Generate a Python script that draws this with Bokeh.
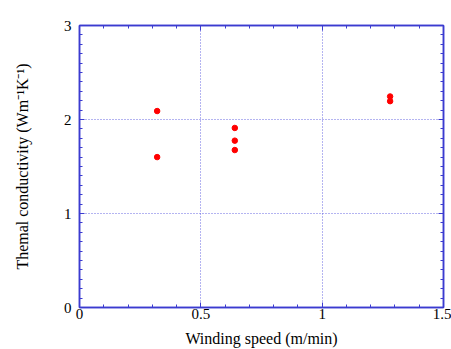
from bokeh.plotting import figure
from bokeh.models import LinearAxis, Range1d, FixedTicker
from bokeh.embed import file_html
from bokeh.resources import INLINE

speed = [0.32, 0.32, 0.64, 0.64, 0.64, 1.28, 1.28]
conductivity = [2.09, 1.60, 1.91, 1.775, 1.675, 2.245, 2.195]
x_ticks = [0, 0.5, 1, 1.5]
y_ticks = [0, 1, 2, 3]

BLUE = "#3b3bd0"
FONT = "'Liberation Serif', 'Times New Roman', serif"

p = figure(width=451, height=349, output_backend="svg", toolbar_location=None,
           x_range=Range1d(0, 1.5), y_range=Range1d(0, 3),
           min_border_left=79, min_border_right=8, min_border_top=25, min_border_bottom=42)
p.outline_line_color = BLUE
p.outline_line_width = 1.5
p.background_fill_color = "white"
p.border_fill_color = "white"

p.scatter(speed, conductivity, size=5.5, color="#ff0000", marker="circle")

xt = FixedTicker(ticks=x_ticks, minor_ticks=[round(i * 0.1, 2) for i in range(16)])
yt = FixedTicker(ticks=y_ticks, minor_ticks=[round(i * 0.1, 2) for i in range(31)])

def style(ax, labels=True):
    ax.axis_line_color = BLUE
    ax.axis_line_width = 1.5
    ax.major_tick_line_color = BLUE
    ax.minor_tick_line_color = BLUE
    ax.major_tick_line_width = 1
    ax.minor_tick_line_width = 1
    ax.major_tick_in = 5
    ax.major_tick_out = 0
    ax.minor_tick_in = 3
    ax.minor_tick_out = 0
    ax.major_label_text_font = FONT
    ax.major_label_text_font_size = "15px"
    ax.major_label_text_color = "black" if labels else None
    ax.axis_label_text_font = FONT
    ax.axis_label_text_font_size = "16px"
    ax.axis_label_text_font_style = "normal"
    ax.axis_label_text_color = "black"

p.xaxis.ticker = xt
p.yaxis.ticker = yt
p.xaxis.major_label_overrides = {0: "0", 0.5: "0.5", 1: "1", 1.5: "1.5"}
p.yaxis.major_label_overrides = {0: "0", 1: "1", 2: "2", 3: "3"}
style(p.xaxis[0])
style(p.yaxis[0])
p.xaxis.axis_label = "Winding speed (m/min)"
p.yaxis.axis_label = "Themal conductivity (Wm\u207b\u00b9K\u207b\u00b9)"
p.xaxis.major_label_standoff = 1
p.xaxis.axis_label_standoff = 8
p.yaxis.major_label_standoff = 8
p.yaxis.axis_label_standoff = 30

top = LinearAxis(ticker=xt)
style(top, labels=False)
top.major_label_text_font_size = "0px"
right = LinearAxis(ticker=yt)
style(right, labels=False)
right.major_label_text_font_size = "0px"
p.add_layout(top, "above")
p.add_layout(right, "right")

p.xgrid.ticker = FixedTicker(ticks=[0.5, 1])
p.ygrid.ticker = FixedTicker(ticks=[1, 2])
for g in (p.xgrid[0], p.ygrid[0]):
    g.grid_line_color = "#5a5ae0"
    g.grid_line_dash = "1 2"
    g.grid_line_width = 1
    g.grid_line_alpha = 0.9

open("out.html", "w").write(file_html(p, INLINE))
